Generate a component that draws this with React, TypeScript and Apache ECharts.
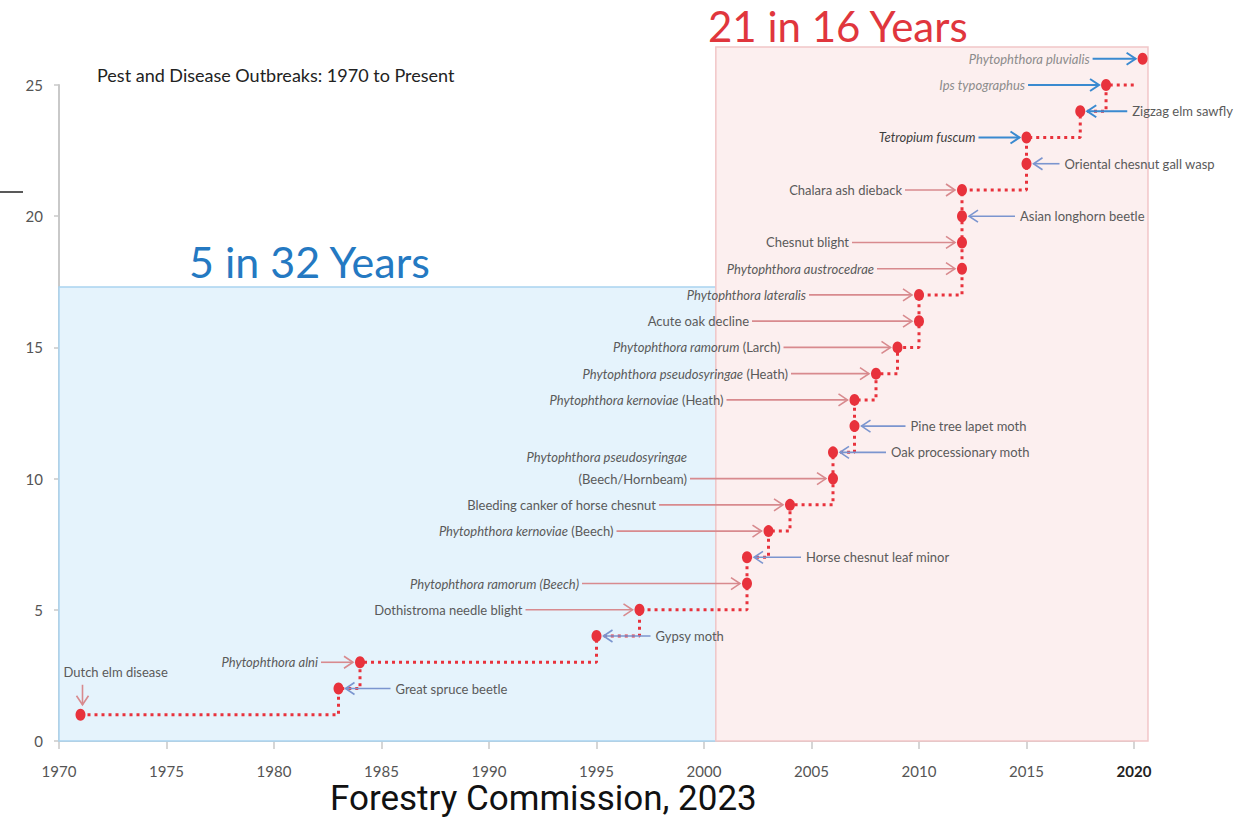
import React, { useEffect, useRef } from "react";
import * as echarts from "echarts";

// ---- data ----
const years = [1971, 1983, 1984, 1995, 1997, 2002, 2002, 2003, 2004, 2006, 2006, 2007, 2007, 2008, 2009, 2010, 2010, 2012, 2012, 2012, 2012, 2015, 2015, 2017.5, 2018.7, 2020.4];
const counts = [1, 2, 3, 4, 5, 6, 7, 8, 9, 10, 11, 12, 13, 14, 15, 16, 17, 18, 19, 20, 21, 22, 23, 24, 25, 26];
const labels = [
  "Dutch elm disease",
  "Great spruce beetle",
  "{i|Phytophthora alni}",
  "Gypsy moth",
  "Dothistroma needle blight",
  "{i|Phytophthora ramorum (Beech)}",
  "Horse chesnut leaf minor",
  "{i|Phytophthora kernoviae} (Beech)",
  "Bleeding canker of horse chesnut",
  "{i|Phytophthora pseudosyringae}\n(Beech/Hornbeam)",
  "Oak processionary moth",
  "Pine tree lapet moth",
  "{i|Phytophthora kernoviae} (Heath)",
  "{i|Phytophthora pseudosyringae} (Heath)",
  "{i|Phytophthora ramorum} (Larch)",
  "Acute oak decline",
  "{i|Phytophthora lateralis}",
  "{i|Phytophthora austrocedrae}",
  "Chesnut blight",
  "Asian longhorn beetle",
  "Chalara ash dieback",
  "Oriental chesnut gall wasp",
  "{i|Tetropium fuscum}",
  "Zigzag elm sawfly",
  "{i|Ips typographus}",
  "{i|Phytophthora pluvialis}",
];
const xTicks = [1970, 1975, 1980, 1985, 1990, 1995, 2000, 2005, 2010, 2015, 2020];
const yTicks = [0, 5, 10, 15, 20, 25];

// periods (shaded zones): start year, end year, top value
const zoneStart = [1970, 2000.55];
const zoneEnd = [2000.55, 2020.65];
const zoneTop = [17.3, 26.45];

// ---- layout / style for annotations ----
const sides = ["T", "R", "L", "R", "L", "L", "R", "L", "L", "L", "R", "R", "L", "L", "L", "L", "L", "L", "L", "R", "L", "R", "L", "R", "L", "L"];
const arrowLens = [20, 45, 32, 47, 107, 158, 47, 145, 124, 136, 46, 44, 121, 78, 107, 160, 103, 78, 103, 46, 50, 26, 41, 40, 71, 43];
const tones = ["red", "blue", "red", "blue", "red", "red", "blue", "red", "red", "red", "blue", "blue", "red", "red", "red", "red", "red", "red", "red", "blue", "red", "blue", "strong", "strong", "strong", "strong"];
const textTones = ["n", "n", "n", "n", "n", "n", "n", "n", "n", "n", "n", "n", "n", "n", "n", "n", "n", "n", "n", "n", "n", "n", "d", "n", "l", "l"];

const ARROW_COLORS: Record<string, string> = { red: "#d88a8e", blue: "#7b95cf", strong: "#3a8ad0" };
const TEXT_COLORS: Record<string, string> = { n: "#5a5a5a", d: "#3e3e3e", l: "#8c8c8c" };
const FONT = "Lato";

export default function App() {
  const ref = useRef<HTMLDivElement>(null);

  useEffect(() => {
    if (!ref.current) return;
    const chart = echarts.init(ref.current, null, { renderer: "svg" });

    const pointData = years.map((y, i) => [y, counts[i]]);
    const annData = years.map((y, i) => [y, counts[i], i]);
    const zoneData = zoneStart.map((s, i) => [s, zoneEnd[i], zoneTop[i], i]);

    const zoneFill = ["#e5f3fc", "#fcefef"];
    const zoneStroke = ["#a9d3ef", "#f1c6c8"];

    const option: any = {
      animation: false,
      backgroundColor: "#ffffff",
      grid: { left: 59, right: 110, top: 85, bottom: 86, containLabel: false },
      xAxis: {
        type: "value",
        min: 1970,
        max: 2020,
        interval: 5,
        splitLine: { show: false },
        axisLine: { show: true, lineStyle: { color: "#c9c9c9", width: 2 } },
        axisTick: { show: true, length: 8, lineStyle: { color: "#c9c9c9", width: 1.5 } },
        axisLabel: {
          margin: 22,
          fontFamily: FONT,
          fontSize: 15,
          color: "#555",
          formatter: (v: number) => (xTicks.indexOf(v) < 0 ? "" : v === 2020 ? "{b|2020}" : String(v)),
          rich: { b: { fontFamily: FONT, fontSize: 15, fontWeight: "bold", color: "#222" } },
        },
      },
      yAxis: {
        type: "value",
        min: 0,
        max: 25,
        interval: 5,
        splitLine: { show: false },
        axisLine: { show: true, lineStyle: { color: "#c9c9c9", width: 2 } },
        axisTick: { show: true, length: 5, lineStyle: { color: "#c9c9c9", width: 1.5 } },
        axisLabel: {
          margin: 16,
          fontFamily: FONT,
          fontSize: 15,
          color: "#555",
          formatter: (v: number) => (yTicks.indexOf(v) < 0 ? "" : String(v)),
        },
      },
      series: [
        {
          type: "custom",
          name: "zones",
          z: 1,
          clip: false,
          silent: true,
          data: zoneData,
          encode: { x: [0, 1], y: 2 },
          renderItem: (params: any, api: any) => {
            const idx = api.value(3);
            const p0 = api.coord([api.value(0), 0]);
            const p1 = api.coord([api.value(1), api.value(2)]);
            return {
              type: "rect",
              shape: { x: p0[0], y: p1[1], width: p1[0] - p0[0], height: p0[1] - p1[1] },
              style: { fill: zoneFill[idx], stroke: zoneStroke[idx], lineWidth: 1.5 },
            };
          },
        },
        {
          type: "line",
          name: "Outbreaks",
          z: 3,
          clip: false,
          step: "end",
          data: pointData,
          symbol: "circle",
          symbolSize: [10, 12],
          itemStyle: { color: "#e8323c" },
          lineStyle: { color: "#e8323c", width: 3, type: [3, 4] },
        },
        {
          type: "custom",
          name: "annotations",
          z: 4,
          clip: false,
          silent: true,
          data: annData,
          encode: { x: 0, y: 1 },
          renderItem: (params: any, api: any) => {
            const i = api.value(2) as number;
            const pt = api.coord([api.value(0), api.value(1)]);
            const side = sides[i];
            const len = arrowLens[i];
            const col = ARROW_COLORS[tones[i]];
            const lw = tones[i] === "strong" ? 2 : 1.6;
            const tcol = TEXT_COLORS[textTones[i]];
            const gap = 7;
            const baseStyle: any = {
              text: labels[i],
              fill: tcol,
              fontFamily: FONT,
              fontSize: 13,
              lineHeight: 22,
              rich: {
                i: { fontFamily: FONT, fontSize: 13, fontStyle: "italic", fill: tcol, lineHeight: 22 },
              },
            };
            let line: any, chev: number[][], text: any;
            if (side === "L") {
              const hx = pt[0] - gap;
              const tx = hx - len;
              const y = pt[1];
              line = { x1: tx, y1: y, x2: hx, y2: y };
              chev = [[hx - 9, y - 6], [hx, y], [hx - 9, y + 6]];
              const twoLine = labels[i].indexOf("\n") >= 0;
              text = {
                type: "text",
                x: tx - 3,
                y: twoLine ? y + 11 : y,
                style: { ...baseStyle, align: "right", verticalAlign: twoLine ? "bottom" : "middle" },
              };
            } else if (side === "R") {
              const hx = pt[0] + gap;
              const tx = hx + len;
              const y = pt[1];
              line = { x1: hx, y1: y, x2: tx, y2: y };
              chev = [[hx + 9, y - 6], [hx, y], [hx + 9, y + 6]];
              text = { type: "text", x: tx + 5, y, style: { ...baseStyle, align: "left", verticalAlign: "middle" } };
            } else {
              const x = pt[0] + 2;
              const hy = pt[1] - 10;
              const ty = hy - len;
              line = { x1: x, y1: ty, x2: x, y2: hy };
              chev = [[x - 6, hy - 9], [x, hy], [x + 6, hy - 9]];
              text = { type: "text", x: x - 19, y: ty - 2, style: { ...baseStyle, align: "left", verticalAlign: "bottom" } };
            }
            return {
              type: "group",
              children: [
                { type: "line", shape: line, style: { stroke: col, lineWidth: lw } },
                { type: "polyline", shape: { points: chev }, style: { stroke: col, lineWidth: lw, fill: null } },
                text,
              ],
            };
          },
        },
      ],
      graphic: [
        {
          type: "text",
          left: 97,
          top: 66,
          style: { text: "Pest and Disease Outbreaks: 1970 to Present", fill: "#222", fontFamily: FONT, fontSize: 18 },
          z: 10,
        },
        {
          type: "text",
          left: 189,
          top: 240,
          style: { text: "5 in 32 Years", fill: "#2479c2", fontFamily: FONT, fontSize: 43 },
          z: 10,
        },
        {
          type: "text",
          left: 708,
          top: 5,
          style: { text: "21 in 16 Years", fill: "#e0363d", fontFamily: FONT, fontSize: 42 },
          z: 10,
        },
        {
          type: "text",
          left: 330,
          top: 781,
          style: { text: "Forestry Commission, 2023", fill: "#111", fontFamily: "Roboto", fontSize: 35 },
          z: 10,
        },
        {
          type: "line",
          shape: { x1: 0, y1: 192, x2: 23, y2: 192 },
          style: { stroke: "#222", lineWidth: 1.5 },
          z: 10,
        },
      ],
    };

    chart.setOption(option);
    return () => chart.dispose();
  }, []);

  return (
    <div
      ref={ref}
      style={{ position: "fixed", left: 0, top: 0, width: 1244, height: 827, background: "#fff" }}
    />
  );
}
